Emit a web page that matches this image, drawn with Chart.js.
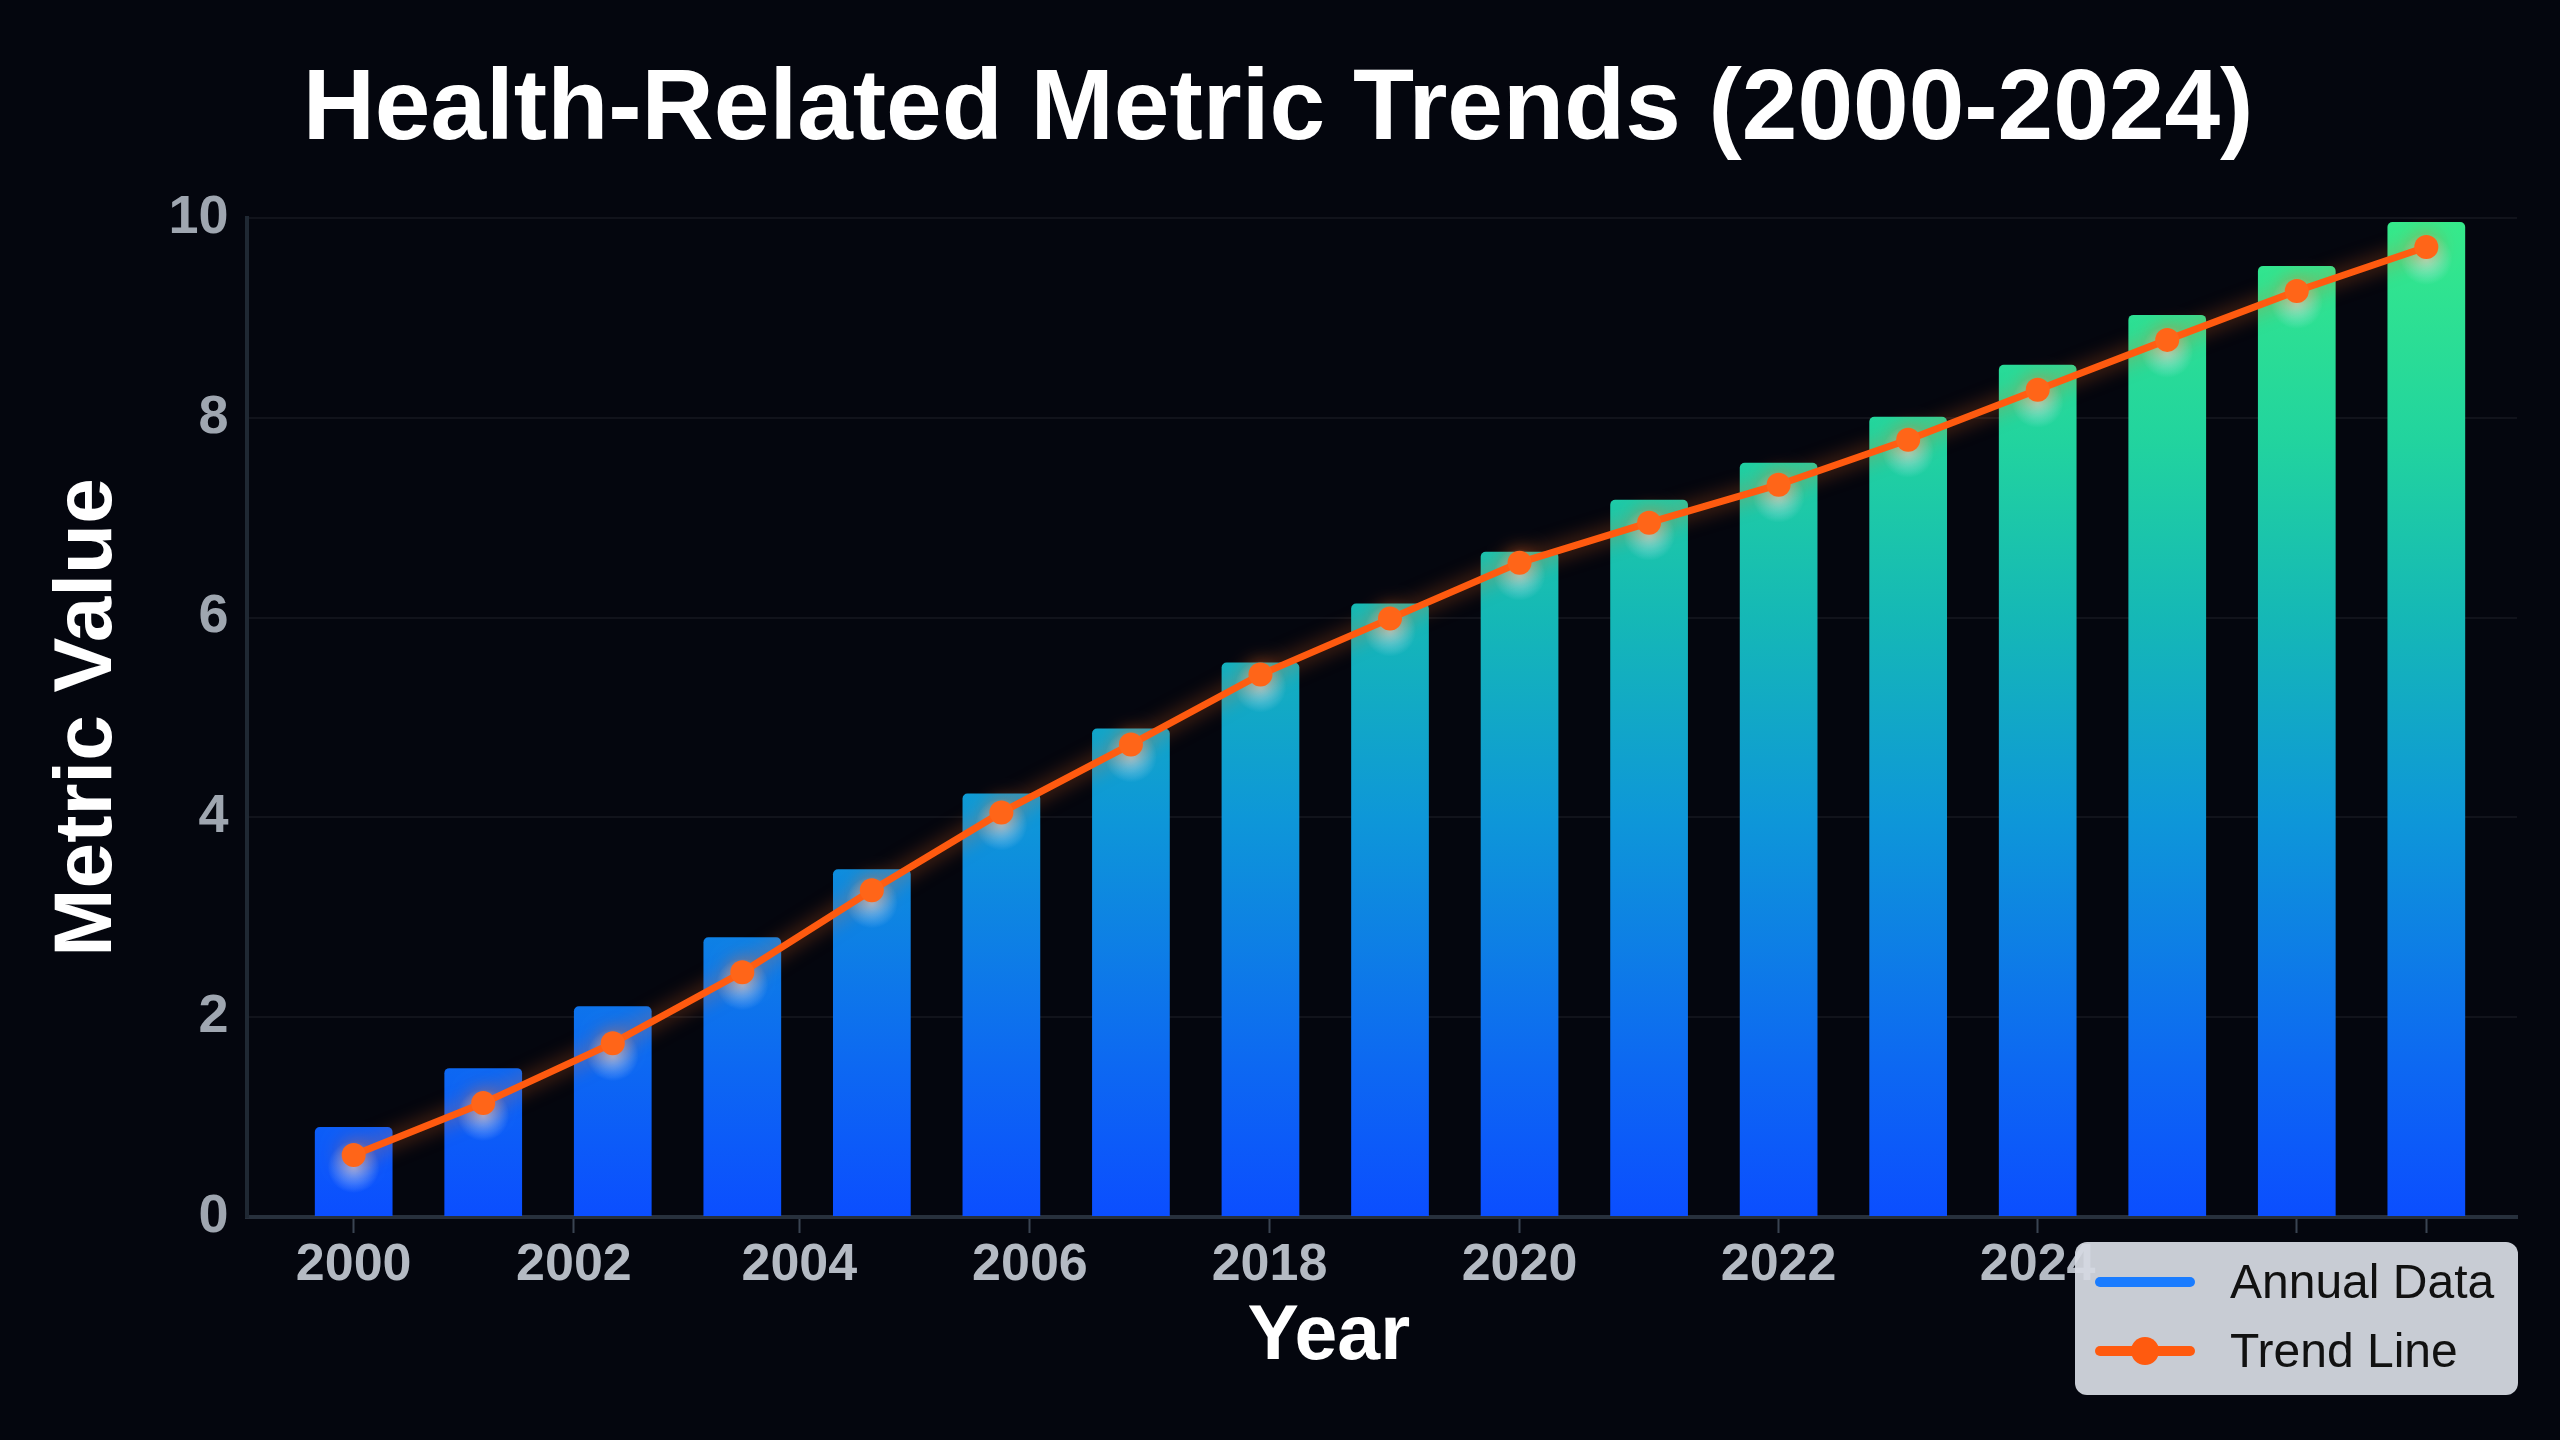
<!DOCTYPE html>
<html>
<head>
<meta charset="utf-8">
<script src="https://cdn.jsdelivr.net/npm/chart.js@4.4.1/dist/chart.umd.min.js"></script>
<style>
    html, body { margin: 0; padding: 0; background: #04060e; }
    #wrap { position: relative; width: 2560px; height: 1440px; }
    #legend {
        position: absolute; left: 2075px; top: 1242px; width: 443px; height: 153px;
        background: rgba(212, 217, 225, 0.94); border-radius: 12px;
        font-family: "Liberation Sans", Arial, sans-serif; font-size: 48px; color: #111;
    }
    .item { position: absolute; left: 0; height: 60px; width: 100%; }
    .item .swatch { position: absolute; left: 20px; top: 25px; width: 100px; height: 10px; border-radius: 5px; }
    .item .dot { position: absolute; left: 56px; top: 16px; width: 28px; height: 28px; border-radius: 50%; background: #ff5a0f; }
    .item span { position: absolute; left: 155px; top: 0; line-height: 60px; }
</style>
</head>
<body>
<div id="wrap">
    <canvas id="chart" width="2560" height="1440"></canvas>
    <div id="legend">
        <div class="item" style="top: 10px"><div class="swatch" style="background:#1a7cff"></div><span>Annual Data</span></div>
        <div class="item" style="top: 79px"><div class="swatch" style="background:#ff5a0f"></div><div class="dot"></div><span>Trend Line</span></div>
    </div>
</div>
<script>
    // values, one per bar (bar 0 .. bar 16)
    const barValues = [0.90, 1.49, 2.11, 2.80, 3.48, 4.24, 4.89, 5.55, 6.14, 6.66, 7.18, 7.55, 8.01, 8.53, 9.03, 9.52, 9.96];
    const trendValues = [0.62, 1.14, 1.74, 2.45, 3.27, 4.05, 4.73, 5.43, 5.99, 6.55, 6.95, 7.33, 7.78, 8.28, 8.78, 9.27, 9.71];
    // x ticks in the picture do not sit on every bar, so they get their own positions
    const tickPositions = [0, 1.7, 3.44, 5.22, 7.07, 9, 11, 13, 15, 16];
    const tickLabels = ['2000', '2002', '2004', '2006', '2018', '2020', '2022', '2024', '', ''];

    const barPoints = barValues.map((v, i) => ({x: i, y: v}));
    const trendPoints = trendValues.map((v, i) => ({x: i, y: v}));

    const FONT = '"Liberation Sans", Arial, sans-serif';

    function barGradient(context) {
        const chart = context.chart;
        const area = chart.chartArea;
        if (!area) return '#1560ff';
        const g = chart.ctx.createLinearGradient(0, area.bottom, 0, area.top);
        g.addColorStop(0, '#0b4eff');
        g.addColorStop(0.15, '#0d68f2');
        g.addColorStop(0.4, '#0e97d8');
        g.addColorStop(0.6, '#15b8b6');
        g.addColorStop(0.78, '#22d49e');
        g.addColorStop(1, '#36ea8a');
        return g;
    }

    const glow = {
        id: 'glow',
        beforeDatasetDraw(chart, args) {
            if (args.index !== 1) return;
            const ctx = chart.ctx;
            // soft halo under each point
            args.meta.data.forEach(pt => {
                const r = ctx.createRadialGradient(pt.x, pt.y + 12, 0, pt.x, pt.y + 12, 26);
                r.addColorStop(0, 'rgba(225,240,255,0.6)');
                r.addColorStop(1, 'rgba(225,240,255,0)');
                ctx.fillStyle = r;
                ctx.beginPath();
                ctx.arc(pt.x, pt.y + 12, 26, 0, Math.PI * 2);
                ctx.fill();
            });
            ctx.save();
            ctx.shadowColor = 'rgba(255,110,30,0.6)';
            ctx.shadowBlur = 20;
        },
        afterDatasetDraw(chart, args) {
            if (args.index !== 1) return;
            chart.ctx.restore();
        }
    };

    new Chart(document.getElementById('chart'), {
        type: 'bar',
        data: {
            datasets: [{
                type: 'bar',
                label: 'Annual Data',
                data: barPoints,
                backgroundColor: barGradient,
                borderRadius: {topLeft: 5, topRight: 5},
                borderSkipped: 'start',
                barPercentage: 0.6,
                categoryPercentage: 1,
                order: 2
            }, {
                type: 'line',
                label: 'Trend Line',
                data: trendPoints,
                borderColor: '#ff5a0f',
                borderWidth: 7,
                pointRadius: 12,
                pointBackgroundColor: '#ff6518',
                pointBorderWidth: 0,
                tension: 0,
                order: 1
            }]
        },
        options: {
            responsive: false,
            animation: false,
            layout: {padding: {left: 39, right: 43, top: 0, bottom: 0}},
            plugins: {
                legend: {display: false},
                tooltip: {enabled: false},
                title: {
                    display: true,
                    text: 'Health-Related Metric Trends (2000-2024)',
                    color: '#ffffff',
                    font: {family: FONT, size: 100, weight: 'bold'},
                    padding: {top: 51, bottom: 47}
                }
            },
            scales: {
                x: {
                    type: 'linear',
                    offset: false,
                    min: -0.82,
                    max: 16.7,
                    afterBuildTicks(scale) {
                        scale.ticks = tickPositions.map(v => ({value: v}));
                    },
                    ticks: {
                        autoSkip: false,
                        maxRotation: 0,
                        padding: 7,
                        color: '#b4bac3',
                        font: {family: FONT, size: 52, weight: 'bold', lineHeight: 1},
                        callback: (value, index) => tickLabels[index]
                    },
                    grid: {
                        offset: false,
                        drawOnChartArea: false,
                        tickLength: 16,
                        tickWidth: 2,
                        tickColor: '#3a4452'
                    },
                    border: {color: '#27303c', width: 4},
                    title: {
                        display: true,
                        // trailing spaces nudge the centred word left, as in the picture
                        text: 'Year     ',
                        color: '#ffffff',
                        font: {family: FONT, size: 77, weight: 'bold', lineHeight: 1},
                        padding: {top: 0, bottom: 64}
                    }
                },
                y: {
                    min: 0,
                    max: 10,
                    ticks: {
                        stepSize: 2,
                        padding: 19,
                        color: '#9fa6b0',
                        font: {family: FONT, size: 54, weight: 'bold'}
                    },
                    grid: {
                        color: 'rgba(255,255,255,0.055)',
                        lineWidth: 2,
                        drawTicks: false
                    },
                    border: {color: '#1f2833', width: 4},
                    title: {
                        display: true,
                        text: 'Metric Value',
                        color: '#ffffff',
                        font: {family: FONT, size: 82, weight: 'bold'},
                        padding: {top: 0, bottom: 12}
                    }
                }
            }
        },
        plugins: [glow]
    });
</script>
</body>
</html>
